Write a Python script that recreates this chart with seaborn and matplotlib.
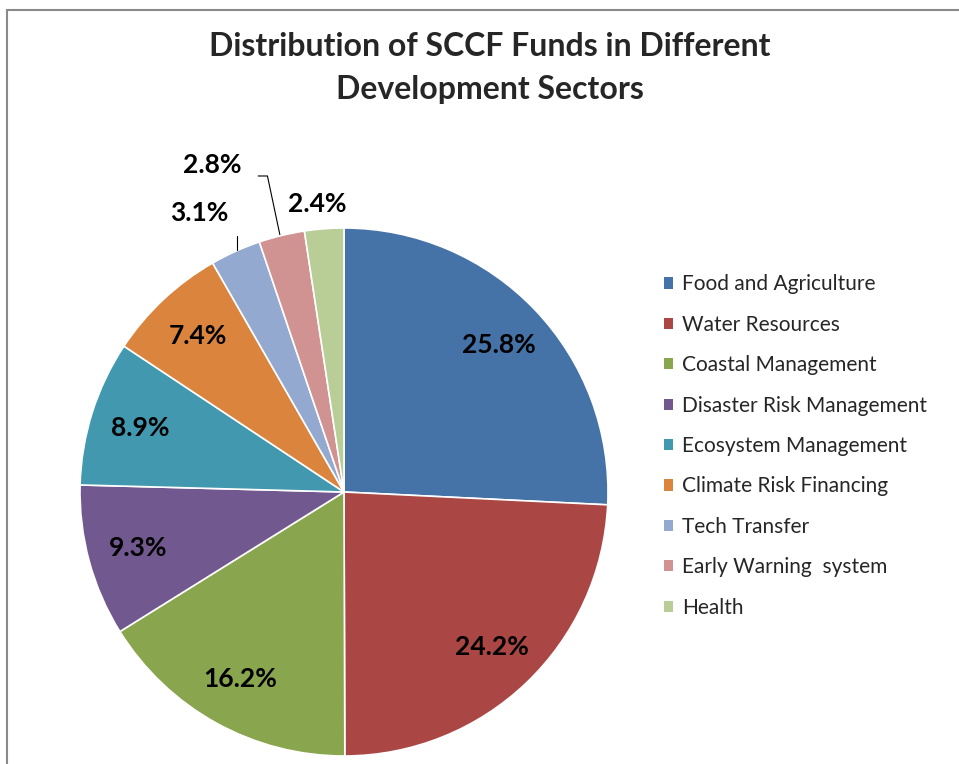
import numpy as np
import matplotlib
matplotlib.use("Agg")
import matplotlib.pyplot as plt
import seaborn as sns
from matplotlib.lines import Line2D
from matplotlib.patches import Rectangle

sectors = ["Food and Agriculture", "Water Resources", "Coastal Management",
           "Disaster Risk Management", "Ecosystem Management", "Climate Risk Financing",
           "Tech Transfer", "Early Warning  system", "Health"]
shares = [25.8, 24.2, 16.2, 9.3, 8.9, 7.4, 3.1, 2.8, 2.4]
colors = ["#4572A7", "#AA4643", "#89A54E", "#71588F", "#4198AF",
          "#DB843D", "#93A9CF", "#D19392", "#B9CD96"]
title_lines = ["Distribution of SCCF Funds in Different", "Development Sectors"]

sns.set_theme(style="white")
plt.rcParams['font.family'] = ['Lato', 'DejaVu Sans']

fig = plt.figure(figsize=(9.59, 7.64), dpi=100)
fig.patch.set_facecolor("white")

# frame border (top and left)
fig.add_artist(Line2D([7/959, 1.0], [1-9.5/764, 1-9.5/764], color="#8a8a8a", lw=1.5,
                      transform=fig.transFigure))
fig.add_artist(Line2D([7/959, 7/959], [0, 1-9.5/764], color="#8a8a8a", lw=1.5,
                      transform=fig.transFigure))

ax = fig.add_axes([(344-264)/959, (764-756)/764, 528/959, 528/764])
wedges, _ = ax.pie(shares, colors=colors, startangle=90, counterclock=False,
                   radius=1.0, wedgeprops=dict(edgecolor="white", linewidth=1.2))
ax.set_xlim(-1, 1)
ax.set_ylim(-1, 1)
ax.set_aspect("equal")
ax.axis("off")

total = sum(shares)
cum = np.cumsum([0] + shares[:-1])
mids = 90 - (cum + np.array(shares) / 2) / total * 360

lab_kw = dict(ha="center", va="center", fontsize=19, fontweight="bold", color="black")
for i, (s, a) in enumerate(zip(shares, mids)):
    r = np.deg2rad(a)
    if i < 6:
        d = 0.81
        ax.text(d*np.cos(r), d*np.sin(r), f"{s}%", **lab_kw)

# outside labels for small slices
# Tech Transfer
ax.text(-0.55, 1.055, f"{shares[6]}%", clip_on=False, **lab_kw)
ax.plot([-0.405, -0.405], [0.97, 0.915], color="black", lw=0.8, clip_on=False)
# Early Warning
ax.text(-0.50, 1.24, f"{shares[7]}%", clip_on=False, **lab_kw)
ax.plot([-0.325, -0.29, -0.243], [1.197, 1.197, 0.975], color="black", lw=0.8, clip_on=False)
# Health
ax.text(-0.10, 1.09, f"{shares[8]}%", clip_on=False, **lab_kw)

fig.text(0.511, 1-47/764, title_lines[0], ha="center", va="center", fontsize=23,
         fontweight="bold")
fig.text(0.511, 1-90/764, title_lines[1], ha="center", va="center", fontsize=23,
         fontweight="bold")

handles = [Rectangle((0, 0), 1, 1, facecolor=c, edgecolor="none") for c in colors]
leg = fig.legend(handles, sectors, loc="center left", bbox_to_anchor=(645/959, 1-446/764),
                 frameon=False, fontsize=15, handlelength=0.45, handleheight=0.45,
                 handletextpad=0.45, labelspacing=0.98)

fig.savefig("out.png", dpi=100, facecolor="white")
